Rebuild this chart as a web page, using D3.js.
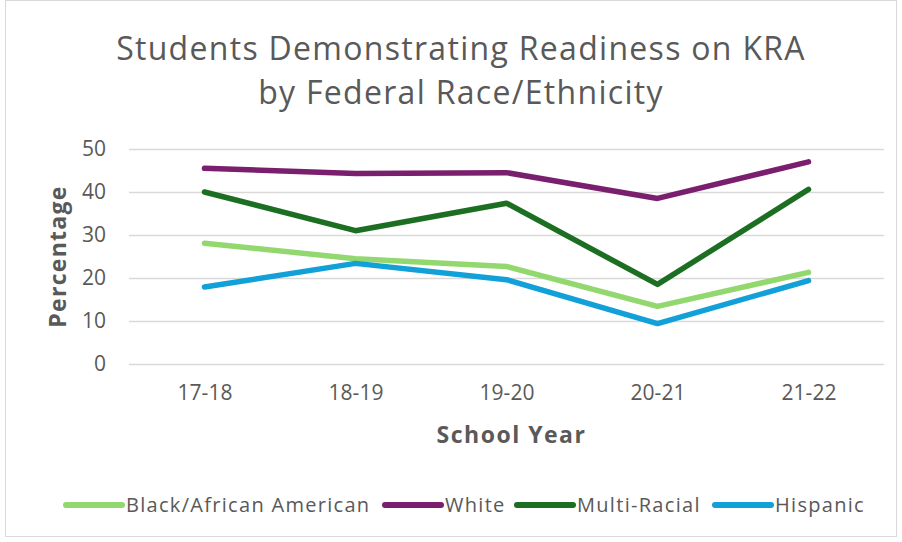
<!DOCTYPE html>
<html>
<head>
<meta charset="utf-8">
<script src="https://cdn.jsdelivr.net/npm/d3@7"></script>
<style>
  html, body { margin: 0; padding: 0; background: #fff; }
  svg { display: block; }
</style>
</head>
<body>
<svg id="chart" width="902" height="542"></svg>
<script>
// School years on the x axis
const years = ["17-18", "18-19", "19-20", "20-21", "21-22"];
// Percent of students demonstrating readiness, per group
const blackAfricanAmerican = [28.1, 24.5, 22.7, 13.4, 21.3];
const white = [45.5, 44.3, 44.5, 38.5, 47.0];
const multiRacial = [40.0, 31.0, 37.4, 18.5, 40.6];
const hispanic = [17.9, 23.4, 19.6, 9.4, 19.4];
const seriesNames = ["Black/African American", "White", "Multi-Racial", "Hispanic"];
const seriesColors = ["#92d86f", "#7a1f6e", "#1c6e22", "#12a0d8"];
const yTicks = [0, 10, 20, 30, 40, 50];

const series = [blackAfricanAmerican, white, multiRacial, hispanic].map((vals, i) => ({
  name: seriesNames[i], color: seriesColors[i], values: vals
}));

const svg = d3.select("#chart");
const W = 902, H = 542;
const font = "'Open Sans', Roboto, 'Liberation Sans', sans-serif";
const textColor = "#595959";

// outer frame
svg.append("rect").attr("x", 5.5).attr("y", 0.5).attr("width", W - 11).attr("height", H - 6)
  .attr("fill", "#fff").attr("stroke", "#d9d9d9");

// plot area
const plotLeft = 129, plotRight = 884, plotTop = 149, plotBottom = 364;
const x = d3.scalePoint().domain(years).range([plotLeft, plotRight]).padding(0.5);
const y = d3.scaleLinear().domain([0, 50]).range([plotBottom, plotTop]);

// title
const title = svg.append("text").attr("text-anchor", "middle").attr("fill", textColor)
  .style("font-family", font).style("font-size", "32px").style("letter-spacing", "1.3px");
title.append("tspan").attr("x", 461).attr("y", 60).text("Students Demonstrating Readiness on KRA");
title.append("tspan").attr("x", 461).attr("y", 104).text("by Federal Race/Ethnicity");

// gridlines
const yAxis = d3.axisLeft(y).tickValues(yTicks).tickSize(-(plotRight - plotLeft)).tickPadding(23);
const gy = svg.append("g").attr("transform", `translate(${plotLeft},0)`).call(yAxis);
gy.select(".domain").remove();
gy.selectAll(".tick line").attr("stroke", "#d9d9d9").attr("stroke-width", 1.5);
gy.selectAll(".tick text").attr("fill", textColor).style("font-family", font).style("font-size", "21px");

// x axis labels
const xAxis = d3.axisBottom(x).tickSize(0).tickPadding(21);
const gx = svg.append("g").attr("transform", `translate(0,${plotBottom})`).call(xAxis);
gx.select(".domain").remove();
gx.selectAll(".tick text").attr("fill", textColor).style("font-family", font).style("font-size", "21px");

// axis titles
svg.append("text").attr("x", (plotLeft + plotRight) / 2 + 5).attr("y", 443).attr("text-anchor", "middle")
  .attr("fill", textColor).style("font-family", font).style("font-size", "23px").style("font-weight", "bold")
  .style("letter-spacing", "1.5px")
  .text("School Year");
svg.append("text").attr("transform", `translate(66,${(plotTop + plotBottom) / 2}) rotate(-90)`)
  .attr("text-anchor", "middle").attr("fill", textColor)
  .style("font-family", font).style("font-size", "23px").style("font-weight", "bold")
  .style("letter-spacing", "1.3px")
  .text("Percentage");

// lines
const line = d3.line().x((d, i) => x(years[i])).y(d => y(d));
svg.append("g").selectAll("path").data(series).join("path")
  .attr("d", d => line(d.values))
  .attr("fill", "none").attr("stroke", d => d.color).attr("stroke-width", 5.5)
  .attr("stroke-linejoin", "round").attr("stroke-linecap", "round");

// legend
const legendX = [66, 385, 517, 715];
const lg = svg.append("g").selectAll("g").data(series).join("g")
  .attr("transform", (d, i) => `translate(${legendX[i]},505)`);
lg.append("line").attr("x1", 0).attr("x2", 56).attr("y1", 0).attr("y2", 0)
  .attr("stroke", d => d.color).attr("stroke-width", 6).attr("stroke-linecap", "round");
lg.append("text").attr("x", 60).attr("y", 7).attr("fill", textColor)
  .style("font-family", font).style("font-size", "20px").style("letter-spacing", "1.3px")
  .text(d => d.name);
</script>
</body>
</html>
